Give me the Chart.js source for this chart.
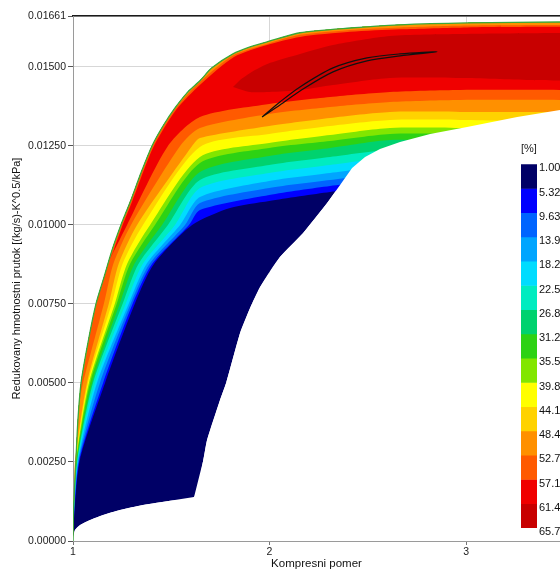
<!DOCTYPE html>
<html>
<head>
<meta charset="utf-8">
<script src="https://cdn.jsdelivr.net/npm/chart.js@4.4.0/dist/chart.umd.min.js"></script>
<style>
  html, body { margin: 0; padding: 0; background: #fff; overflow: hidden; }
  #wrap { position: relative; width: 560px; height: 573px; overflow: hidden; }
  #mapChart { position: absolute; left: 0; top: 0; }
  #scaleChart { position: absolute; left: 512px; top: 136px; background: #fff; }
</style>
</head>
<body>
<div id="wrap">
  <canvas id="mapChart" width="560" height="573"></canvas>
  <canvas id="scaleChart" width="60" height="404"></canvas>
</div>
<script>
// axis ticks
const xTicks = [1, 2, 3];
const yTicks = [0, 0.0025, 0.005, 0.0075, 0.01, 0.0125, 0.015, 0.01661];

// efficiency levels [%] of the colour scale
const levels = [1.00, 5.32, 9.63, 13.95, 18.26, 22.58, 26.89, 31.21, 35.53, 39.84, 44.16, 48.47, 52.79, 57.10, 61.42, 65.73];

// map boundaries [compression ratio, reduced mass flow]
const surgeLine = [[1.000, 0], [1.0015, 0.00066], [1.005, 0.0013], [1.015, 0.00256], [1.025, 0.00383], [1.041, 0.005], [1.076, 0.00627], [1.117, 0.0075], [1.158, 0.00835], [1.199, 0.00921], [1.244, 0.01], [1.295, 0.01079], [1.346, 0.01165], [1.402, 0.0125], [1.458, 0.01313], [1.519, 0.0137], [1.585, 0.01421], [1.646, 0.01456], [1.707, 0.01497], [1.814, 0.01541], [1.901, 0.01563], [1.987, 0.01579], [2.155, 0.01608], [2.41, 0.01623], [2.664, 0.01633], [3.005, 0.01639], [3.478, 0.01642], [3.682, 0.01643]];
const bottomLine = [[1.000, 0], [1.0015, 0.000127], [1.010, 0.000348], [1.036, 0.000506], [1.087, 0.000665], [1.153, 0.000823], [1.239, 0.000981], [1.356, 0.001139], [1.494, 0.001275]];
const chokeLine = [[1.616, 0.001392], [1.662, 0.002532], [1.682, 0.003196], [1.748, 0.004462], [1.779, 0.005], [1.850, 0.006582], [1.901, 0.007373], [1.952, 0.008038], [2.053, 0.008987], [2.171, 0.009747], [2.293, 0.010696], [2.359, 0.011266], [2.420, 0.011804], [2.486, 0.012152], [2.562, 0.012405], [2.664, 0.012627], [2.817, 0.01288], [3.005, 0.013101], [3.260, 0.013418], [3.478, 0.013639], [3.682, 0.013829]];

// lower edge of every "efficiency >= level" region
const iso1 = [[1.001, 0.000348], [1.034, 0.002532], [1.163, 0.005], [1.316, 0.007532], [1.412, 0.008766], [1.606, 0.01], [1.799, 0.010538], [1.998, 0.010759], [2.308, 0.011044], [2.613, 0.011266], [3.478, 0.011266], [3.682, 0.011266]];
const iso2 = [[1.001, 0.000443], [1.031, 0.002532], [1.153, 0.005], [1.305, 0.007532], [1.402, 0.008766], [1.590, 0.01], [1.646, 0.010475], [1.998, 0.010949], [2.308, 0.011234], [2.613, 0.011456], [3.478, 0.011456], [3.682, 0.011456]];
const iso3 = [[1.0015, 0.000538], [1.028, 0.002532], [1.137, 0.005], [1.295, 0.007532], [1.389, 0.008766], [1.570, 0.01], [1.646, 0.010696], [1.998, 0.011171], [2.308, 0.011424], [2.613, 0.011646], [3.478, 0.011646], [3.682, 0.011646]];
const iso4 = [[1.0015, 0.000633], [1.025, 0.002532], [1.122, 0.005], [1.285, 0.007532], [1.374, 0.008766], [1.545, 0.01], [1.646, 0.010886], [1.998, 0.011392], [2.308, 0.011646], [2.613, 0.011867], [3.478, 0.011867], [3.682, 0.011867]];
const iso5 = [[1.002, 0.000728], [1.023, 0.002532], [1.112, 0.005], [1.270, 0.007532], [1.355, 0.008766], [1.519, 0.01], [1.646, 0.011171], [1.998, 0.011646], [2.308, 0.011899], [2.613, 0.01212], [3.478, 0.01212], [3.682, 0.01212]];
const iso6 = [[1.0025, 0.000854], [1.021, 0.002532], [1.102, 0.005], [1.254, 0.007532], [1.333, 0.008766], [1.483, 0.01], [1.646, 0.011424], [1.998, 0.011899], [2.308, 0.012152], [2.613, 0.012373], [3.478, 0.012373], [3.682, 0.012373]];
const iso7 = [[1.003, 0.000981], [1.019, 0.002532], [1.097, 0.005], [1.239, 0.007532], [1.312, 0.008766], [1.453, 0.01], [1.646, 0.011677], [1.998, 0.012184], [2.308, 0.012437], [2.613, 0.01269], [2.970, 0.012627], [3.478, 0.012627], [3.682, 0.012627]];
const iso8 = [[1.0036, 0.001108], [1.017, 0.002532], [1.087, 0.005], [1.224, 0.007532], [1.290, 0.008766], [1.417, 0.01], [1.646, 0.011962], [1.998, 0.012437], [2.308, 0.012658], [2.613, 0.01288], [2.970, 0.01288], [3.478, 0.01288], [3.682, 0.01288]];
const iso9 = [[1.0041, 0.001234], [1.015, 0.002532], [1.081, 0.005], [1.214, 0.007532], [1.275, 0.008766], [1.392, 0.01], [1.646, 0.012152], [1.998, 0.012595], [2.308, 0.012848], [2.613, 0.01307], [2.970, 0.01307], [3.478, 0.013006], [3.682, 0.013006]];
const iso10 = [[1.005, 0.001424], [1.013, 0.002532], [1.076, 0.005], [1.198, 0.007532], [1.252, 0.008766], [1.356, 0.01], [1.646, 0.012468], [1.998, 0.01288], [2.308, 0.013133], [2.613, 0.013323], [2.970, 0.013323], [3.478, 0.013259], [3.682, 0.013259]];
const iso11 = [[1.0076, 0.001772], [1.010, 0.002532], [1.071, 0.005], [1.183, 0.007532], [1.232, 0.008766], [1.326, 0.01], [1.606, 0.0125], [1.646, 0.012753], [1.998, 0.013133], [2.308, 0.013386], [2.613, 0.013576], [2.970, 0.013576], [3.478, 0.013576], [3.682, 0.013576]];
const iso12 = [[1.031, 0.004304], [1.051, 0.005], [1.158, 0.007532], [1.205, 0.008766], [1.295, 0.01], [1.545, 0.0125], [1.646, 0.01307], [1.998, 0.013513], [2.308, 0.013734], [2.613, 0.013892], [2.970, 0.013956], [3.478, 0.013956], [3.682, 0.013956]];
const iso13 = [[1.173, 0.008734], [1.275, 0.01], [1.483, 0.0125], [1.646, 0.013418], [1.998, 0.013829], [2.308, 0.014051], [2.613, 0.014209], [2.970, 0.014272], [3.478, 0.014272], [3.682, 0.014272]];
const iso14 = [[1.814, 0.014367], [1.901, 0.014209], [1.998, 0.014209], [2.155, 0.014272], [2.323, 0.01443], [2.613, 0.014652], [2.970, 0.014652], [3.326, 0.014589], [3.478, 0.014572], [3.682, 0.014557]];

// upper edges of the top regions (right to left, just under the surge line)
const top12 = [[3.682, 0.016329], [3.478, 0.016329], [3.005, 0.016313], [2.664, 0.01625], [2.410, 0.016171], [2.155, 0.016013], [1.987, 0.015728], [1.814, 0.015364], [1.646, 0.014525], [1.519, 0.013671], [1.402, 0.012468], [1.244, 0.009968], [1.117, 0.007468], [1.041, 0.004905]];
const top13 = [[3.682, 0.016266], [3.478, 0.016266], [3.005, 0.01625], [2.664, 0.016187], [2.410, 0.016108], [2.155, 0.015949], [1.987, 0.015696], [1.819, 0.015316], [1.651, 0.014462], [1.524, 0.013639], [1.407, 0.012437], [1.300, 0.010728], [1.249, 0.009937], [1.204, 0.009146]];
const top14 = [[3.682, 0.016076], [3.478, 0.016076], [2.970, 0.016044], [2.613, 0.015981], [2.323, 0.015696], [2.155, 0.015411], [2.003, 0.015127], [1.901, 0.01481], [1.850, 0.014589]];

// operating line loop
const operLine = [[1.962, 0.013418], [2.053, 0.013892], [2.155, 0.014367], [2.323, 0.014968], [2.496, 0.015285], [2.664, 0.015411], [2.852, 0.015475], [2.664, 0.015348], [2.496, 0.01519], [2.323, 0.014842], [2.155, 0.01424], [2.053, 0.013797], [1.962, 0.013418]];

const bandColors = ['#000066', '#0000ff', '#0064ff', '#00a5ff', '#00dcff', '#00ecc0', '#00d26e', '#2dd214', '#82e600', '#ffff00', '#ffd200', '#ff9000', '#ff5a00', '#f00000', '#c80000'];

const tickFont = { family: "'Liberation Sans', Arial, sans-serif", size: 10.5 };
const titleFamily = "'Liberation Sans Narrow', 'Arial Narrow', 'Liberation Sans', sans-serif";

const toXY = pts => pts.map(p => ({ x: p[0], y: p[1] }));
const rev = pts => pts.slice().reverse();

function region(points, color) {
    return {
        data: toXY(points),
        fill: 'shape',
        backgroundColor: color,
        borderWidth: 0,
        pointRadius: 0,
        tension: 0.25
    };
}

// layers, bottom first
const layers = [];
layers.push(region(surgeLine.concat(rev(chokeLine), rev(bottomLine)), bandColors[0]));
[iso1, iso2, iso3, iso4, iso5, iso6, iso7, iso8, iso9, iso10, iso11].forEach((iso, i) => {
    layers.push(region(iso.concat(rev(surgeLine)), bandColors[i + 1]));
});
layers.push(region(iso12.concat(top12), bandColors[12]));
layers.push(region(iso13.concat(top13), bandColors[13]));
layers.push(region(iso14.concat(top14), bandColors[14]));

// white outside the choke side
layers.push({
    data: toXY(bottomLine.concat(chokeLine)),
    fill: 'start',
    backgroundColor: '#ffffff',
    borderWidth: 0,
    pointRadius: 0,
    tension: 0
});
// surge line
layers.push({
    data: toXY(surgeLine),
    fill: false,
    borderColor: '#3aa83a',
    borderWidth: 1.3,
    pointRadius: 0,
    tension: 0.25
});
// operating line
layers.push({
    data: toXY(operLine),
    fill: false,
    borderColor: '#111111',
    borderWidth: 1.2,
    pointRadius: 0,
    tension: 0.3
});
// Chart.js draws the highest order first
layers.forEach((d, i) => { d.order = layers.length - i; });

// keep the plot area flush with the canvas edge
const noSidePad = s => { s.paddingLeft = 0; s.paddingRight = 0; };

new Chart(document.getElementById('mapChart'), {
    type: 'line',
    data: { datasets: layers },
    options: {
        responsive: false,
        animation: false,
        devicePixelRatio: 1,
        layout: { padding: { top: 16, right: 0, bottom: 0, left: 0 } },
        elements: { line: { capBezierPoints: false }, point: { radius: 0 } },
        plugins: { legend: { display: false }, tooltip: { enabled: false } },
        scales: {
            x: {
                type: 'linear',
                min: 1,
                max: 3.478,
                z: 1,
                afterBuildTicks: s => { s.ticks = xTicks.map(v => ({ value: v })); },
                afterFit: s => { s.height = 32; noSidePad(s); },
                ticks: { color: '#222', font: tickFont, padding: 1, maxRotation: 0, callback: v => String(v) },
                grid: { color: 'rgba(205,205,205,0.8)', tickColor: '#777', tickLength: 4 },
                border: { color: '#9a9a9a' },
                title: {
                    display: true,
                    text: 'Kompresni pomer',
                    color: '#111',
                    font: { family: titleFamily, size: 11.5 },
                    padding: { top: 0, bottom: 2 }
                }
            },
            x2: {
                type: 'linear',
                position: 'top',
                min: 1,
                max: 3.478,
                z: 1,
                ticks: { display: false },
                grid: { display: false, drawTicks: false },
                border: { color: '#1a1a1a', width: 1.5 },
                afterFit: s => { s.height = 0; noSidePad(s); }
            },
            y: {
                type: 'linear',
                min: 0,
                max: 0.01661,
                z: 1,
                afterBuildTicks: s => { s.ticks = yTicks.map(v => ({ value: v })); },
                afterFit: s => { s.width = 73; },
                ticks: { color: '#222', font: tickFont, padding: 2, callback: v => v.toFixed(5) },
                grid: { color: 'rgba(205,205,205,0.8)', tickColor: '#555', tickLength: 5 },
                border: { color: '#9a9a9a' },
                title: {
                    display: true,
                    text: 'Redukovany hmotnostni prutok [(kg/s)-K^0.5/kPa]',
                    color: '#111',
                    font: { family: titleFamily, size: 11 },
                    padding: { top: 10, bottom: 0 }
                }
            }
        }
    }
});

// colour scale
const scaleSets = bandColors.map((c, i) => ({
    data: [[levels[i], levels[i + 1]]],
    backgroundColor: c,
    borderWidth: 0,
    grouped: false,
    barPercentage: 1,
    categoryPercentage: 1
}));

new Chart(document.getElementById('scaleChart'), {
    type: 'bar',
    data: { labels: [''], datasets: scaleSets },
    options: {
        responsive: false,
        animation: false,
        devicePixelRatio: 1,
        layout: { padding: { left: 9, right: 0, top: 0, bottom: 12 } },
        plugins: {
            legend: { display: false },
            tooltip: { enabled: false },
            title: {
                display: true,
                text: '[%]',
                align: 'start',
                color: '#222',
                font: { family: tickFont.family, size: 11, weight: 'normal' },
                padding: { top: 6, bottom: 9 }
            }
        },
        scales: {
            x: { display: false },
            y: {
                position: 'right',
                min: levels[0],
                max: levels[levels.length - 1],
                reverse: true,
                afterBuildTicks: s => { s.ticks = levels.map(v => ({ value: v })); },
                afterFit: s => { s.width = 35; },
                ticks: { color: '#111', font: { family: tickFont.family, size: 11 }, padding: 2, labelOffset: 4, autoSkip: false, callback: v => v.toFixed(2) },
                grid: { display: false, drawTicks: false },
                border: { display: false }
            }
        }
    }
});
</script>
</body>
</html>
